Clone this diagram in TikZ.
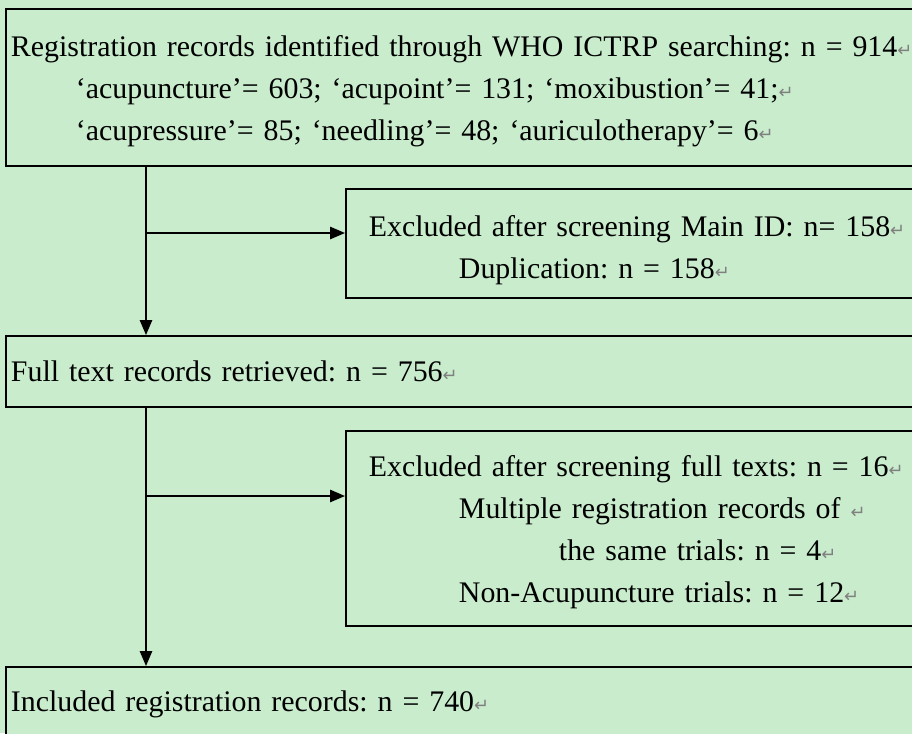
\documentclass[tikz,border=0pt]{standalone}
\usepackage{fontspec}
\setmainfont{Liberation Serif}
\newfontfamily\symfont{DejaVu Sans}
\usetikzlibrary{arrows.meta}
\usepackage{xcolor}
\definecolor{mint}{RGB}{200,236,204}
\newcommand{\ret}{{\color{gray}\symfont\scalebox{.6}{↵}}}

\begin{document}
\frenchspacing
\begin{tikzpicture}[
  box/.style={draw=black, line width=1.1pt, fill=mint, anchor=north west, align=left, inner ysep=0pt, font=\fontsize{17pt}{23.9pt}\selectfont},
  link/.style={line width=1pt, ->, >={Triangle[length=8.5pt, width=7pt]}}
]
\fill[mint] (0,0) rectangle (18.24,-14.66);
\useasboundingbox (0,0) rectangle (18.24,-14.66);
\clip (0,0) rectangle (18.24,-14.66);
% boxes run on past the right edge
\node[box, text width=18.5cm, inner xsep=.1cm, minimum height=3.14cm] (search) at (.1,-.16)
 {\rule{0pt}{.58cm}Registration records identified through WHO ICTRP searching: n = 914\ret\\
  \hspace*{1.3cm}`acupuncture'= 603; `acupoint'= 131; `moxibustion'= 41;\ret\\
  \hspace*{1.3cm}`acupressure'= 85; `needling'= 48; `auriculotherapy'= 6\ret};
\node[box, text width=10.98cm, inner xsep=.46cm, minimum height=2.18cm] (mainid) at (6.9,-3.76)
 {\rule{0pt}{.68cm}Excluded after screening Main ID: n= 158\ret\\
  \hspace*{1.8cm}Duplication: n = 158\ret};
\node[box, text width=18.5cm, inner xsep=.1cm, minimum height=1.42cm] (retrieved) at (.1,-6.70)
 {Full text records retrieved: n = 756\ret};
\node[box, text width=10.98cm, inner xsep=.46cm, minimum height=3.9cm] (fulltext) at (6.9,-8.60)
 {\rule{0pt}{.58cm}Excluded after screening full texts: n = 16\ret\\
  \hspace*{1.8cm}Multiple registration records of \ret\\
  \hspace*{3.8cm}the same trials: n = 4\ret\\
  \hspace*{1.8cm}Non-Acupuncture trials: n = 12\ret};
\node[box, text width=18.5cm, inner xsep=.1cm, minimum height=1.5cm] (included) at (.1,-13.32)
 {Included registration records: n = 740\ret};
% trunk and side arrows
\coordinate (split1) at (2.92,-4.66);
\coordinate (split2) at (2.92,-9.92);
\draw[link] (search.south -| split1) -- (retrieved.north -| split1);
\draw[link] (split1) -- (split1 -| mainid.west);
\draw[link] (retrieved.south -| split2) -- (included.north -| split2);
\draw[link] (split2) -- (split2 -| fulltext.west);
\end{tikzpicture}
\end{document}
